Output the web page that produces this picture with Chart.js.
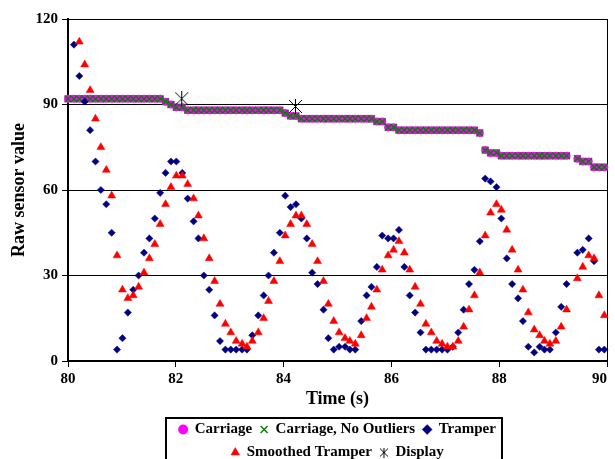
<!DOCTYPE html>
<html lang="en">
<head>
  <meta charset="UTF-8">
  <title>Raw sensor value vs time</title>
  <script src="https://cdn.jsdelivr.net/npm/chart.js@4"></script>
  <style>
    html, body { margin: 0; padding: 0; background: #fff; }
    #wrap { width: 615px; height: 459px; }
  </style>
</head>
<body>
  <div id="wrap"><canvas id="sensorChart"></canvas></div>

  <script>
    // sample times (s), shared by all the sampled series
    const time = [
      80.00, 80.11, 80.21, 80.31, 80.41, 80.51, 80.61, 80.71, 80.81, 80.91,
      81.01, 81.11, 81.21, 81.31, 81.41, 81.51, 81.61, 81.71, 81.81, 81.91,
      82.01, 82.12, 82.22, 82.33, 82.42, 82.52, 82.62, 82.72, 82.82, 82.92,
      83.02, 83.12, 83.23, 83.32, 83.42, 83.53, 83.63, 83.72, 83.82, 83.93,
      84.03, 84.13, 84.23, 84.33, 84.43, 84.53, 84.63, 84.74, 84.83, 84.93,
      85.03, 85.14, 85.23, 85.33, 85.44, 85.54, 85.63, 85.73, 85.83, 85.94,
      86.04, 86.14, 86.24, 86.34, 86.44, 86.54, 86.64, 86.74, 86.84, 86.94,
      87.04, 87.14, 87.24, 87.34, 87.44, 87.54, 87.64, 87.74, 87.84, 87.95,
      88.04, 88.14, 88.24, 88.35, 88.44, 88.54, 88.65, 88.75, 88.84, 88.94,
      89.05, 89.15, 89.25, 89.45, 89.55, 89.66, 89.76, 89.85, 89.95
    ];
    const carriage = [
      92, 92, 92, 92, 92, 92, 92, 92, 92, 92,
      92, 92, 92, 92, 92, 92, 92, 92, 91, 90,
      89, 89, 88, 88, 88, 88, 88, 88, 88, 88,
      88, 88, 88, 88, 88, 88, 88, 88, 88, 88,
      87, 86, 86, 85, 85, 85, 85, 85, 85, 85,
      85, 85, 85, 85, 85, 85, 85, 84, 84, 82,
      82, 81, 81, 81, 81, 81, 81, 81, 81, 81,
      81, 81, 81, 81, 81, 81, 80, 74, 73, 73,
      72, 72, 72, 72, 72, 72, 72, 72, 72, 72,
      72, 72, 72, 71, 70, 70, 68, 68, 68
    ];
    // no outliers were dropped in this window, the two carriage series coincide
    const carriageNoOutliers = carriage.slice();
    const tramper = [
      null, 111, 100, 91, 81, 70, 60, 55, 45, 4,
      8, 17, 25, 30, 38, 43, 50, 59, 66, 70,
      70, 66, 57, 49, 43, 30, 25, 16, 7, 4,
      4, 4, 4, 4, 9, 16, 23, 30, 38, 45,
      58, 54, 55, 50, 43, 31, 27, 18, 8, 4,
      5, 5, 4, 4, 14, 23, 26, 33, 44, 43,
      43, 46, 33, 23, 17, 10, 4, 4, 4, 4,
      4, 5, 10, 18, 27, 32, 42, 64, 63, 61,
      50, 36, 27, 22, 14, 5, 3, 5, 4, 4,
      10, 19, 27, 38, 39, 43, 35, 4, 4
    ];
    const smoothedTramper = [
      null, null, 112, 104, 95, 85, 75, 67, 58, 37,
      25, 22, 23, 26, 31, 36, 41, 48, 55, 61,
      65, 65, 62, 57, 51, 43, 36, 28, 20, 13,
      10, 7, 6, 5, 7, 10, 15, 21, 28, 35,
      44, 48, 51, 51, 48, 41, 35, 28, 20, 14,
      10, 8, 7, 6, 9, 15, 19, 25, 32, 37,
      39, 42, 38, 32, 26, 20, 13, 10, 7, 6,
      5, 5, 7, 12, 18, 23, 31, 44, 52, 55,
      53, 46, 39, 32, 25, 17, 11, 9, 7, 6,
      7, 12, 18, 29, 33, 37, 36, 23, 16
    ];
    const displayTime = [82.11, 84.22];
    const display = [92, 89.3];

    const xTicks = [80, 82, 84, 86, 88, 90];
    const yTicks = [0, 30, 60, 90, 120];

    const FONT = 'Liberation Serif, Times New Roman, serif';

    function pairs(xs, ys) {
      return xs.map((x, i) => ({ x: x, y: ys[i] })).filter(p => p.y !== null);
    }

    // asterisk-like marker used by Excel for the "Display" series
    function starMarker(size) {
      const c = document.createElement('canvas');
      c.width = c.height = size;
      const g = c.getContext('2d');
      const m = size / 2, r = size / 2 - 1;
      g.strokeStyle = '#000';
      g.lineWidth = 1;
      g.beginPath();
      g.moveTo(m - r, m - r); g.lineTo(m + r, m + r);
      g.moveTo(m + r, m - r); g.lineTo(m - r, m + r);
      g.moveTo(m, 0); g.lineTo(m, size);
      g.stroke();
      return c;
    }
    const starBig = starMarker(15);
    const starSmall = starMarker(10);

    // legend wraps after three items and gets a frame, like the original
    const legendFrame = {
      id: 'legendFrame',
      beforeUpdate(chart) {
        const lg = chart.legend;
        if (!lg || lg._rowsPatched) return;
        const fit = lg.fit;
        lg.fit = function () {
          const full = this.maxWidth;
          this.maxWidth = 360;
          fit.call(this);
          this.maxWidth = full;
          this.width = full;
        };
        lg._rowsPatched = true;
      },
      afterDraw(chart) {
        const hb = chart.legend && chart.legend.legendHitBoxes;
        if (!hb || !hb.length) return;
        const left = Math.round(Math.min(...hb.map(b => b.left)) - 13);
        const right = Math.round(Math.max(...hb.map(b => b.left + b.width)) + 6);
        const top = Math.round(hb[0].top - 4);
        const ctx = chart.ctx;
        ctx.save();
        ctx.strokeStyle = '#000';
        ctx.lineWidth = 2;
        ctx.strokeRect(left, top, right - left, chart.height - top + 10);
        ctx.restore();
      }
    };

    const ctx = document.getElementById('sensorChart').getContext('2d');
    new Chart(ctx, {
      type: 'scatter',
      data: {
        datasets: [
          {
            label: 'Carriage',
            data: pairs(time, carriage),
            pointStyle: 'circle',
            pointRadius: 4,
            backgroundColor: '#FF00FF',
            borderColor: '#FF00FF',
            borderWidth: 0,
            clip: false,
            order: 5
          },
          {
            label: 'Carriage, No Outliers',
            data: pairs(time, carriageNoOutliers),
            pointStyle: 'crossRot',
            pointRadius: 4.8,
            backgroundColor: '#008000',
            borderColor: '#008000',
            borderWidth: 1.4,
            clip: false,
            order: 4
          },
          {
            label: 'Tramper',
            data: pairs(time, tramper),
            pointStyle: 'rectRot',
            pointRadius: 3.6,
            backgroundColor: '#000080',
            borderColor: '#000080',
            borderWidth: 0.5,
            clip: false,
            order: 3
          },
          {
            label: 'Smoothed Tramper',
            data: pairs(time, smoothedTramper),
            pointStyle: 'triangle',
            pointRadius: 4.6,
            backgroundColor: '#FF0000',
            borderColor: '#FF0000',
            borderWidth: 0.5,
            clip: false,
            order: 2
          },
          {
            label: 'Display',
            data: pairs(displayTime, display),
            pointStyle: starBig,
            pointRadius: 7,
            backgroundColor: '#000',
            borderColor: '#000',
            borderWidth: 1,
            clip: false,
            order: 1
          }
        ]
      },
      options: {
        responsive: true,
        maintainAspectRatio: false,
        animation: false,
        events: [],
        layout: { padding: { top: 19, right: 5.5, bottom: -11, left: 0 } },
        scales: {
          x: {
            type: 'linear',
            min: 80,
            max: 90,
            afterBuildTicks: s => { s.ticks = xTicks.map(v => ({ value: v })); },
            afterFit: s => { s.height = 53; s.paddingRight = 0; },
            ticks: {
              color: '#000',
              padding: 3,
              font: { family: FONT, size: 15, weight: 'bold' },
              // last label is pushed inside the canvas, as Excel does
              callback: v => (v === 90 ? '90\u2007\u2007' : String(v))
            },
            grid: {
              color: c => (c.tick && c.tick.value === 90 ? '#000' : 'rgba(0,0,0,0)'),
              tickColor: '#000',
              tickLength: 6,
              lineWidth: 1
            },
            border: { color: '#000', width: 2 },
            title: {
              display: true,
              text: 'Time (s)',
              color: '#000',
              padding: { top: 0, bottom: 4 },
              font: { family: FONT, size: 18, weight: 'bold' }
            }
          },
          y: {
            min: 0,
            max: 120,
            afterBuildTicks: s => { s.ticks = yTicks.map(v => ({ value: v })); },
            afterFit: s => { s.width = 68; },
            ticks: {
              color: '#000',
              padding: 4,
              font: { family: FONT, size: 15, weight: 'bold' }
            },
            grid: {
              color: '#000',
              tickColor: '#000',
              tickLength: 6,
              lineWidth: 1
            },
            border: { color: '#000', width: 2 },
            title: {
              display: true,
              text: 'Raw sensor value',
              color: '#000',
              padding: { top: 9, bottom: 0 },
              font: { family: FONT, size: 18, weight: 'bold' }
            }
          }
        },
        plugins: {
          tooltip: { enabled: false },
          legend: {
            position: 'bottom',
            fullSize: false,
            labels: {
              usePointStyle: true,
              boxWidth: 8,
              boxHeight: 7,
              padding: 8,
              color: '#000',
              font: { family: FONT, size: 15, weight: 'bold' },
              sort: (a, b) => a.datasetIndex - b.datasetIndex,
              generateLabels: chart => {
                const items = Chart.defaults.plugins.legend.labels.generateLabels(chart);
                items.forEach(it => { if (it.text === 'Display') it.pointStyle = starSmall; });
                return items;
              }
            }
          }
        }
      },
      plugins: [legendFrame]
    });
  </script>
</body>
</html>
